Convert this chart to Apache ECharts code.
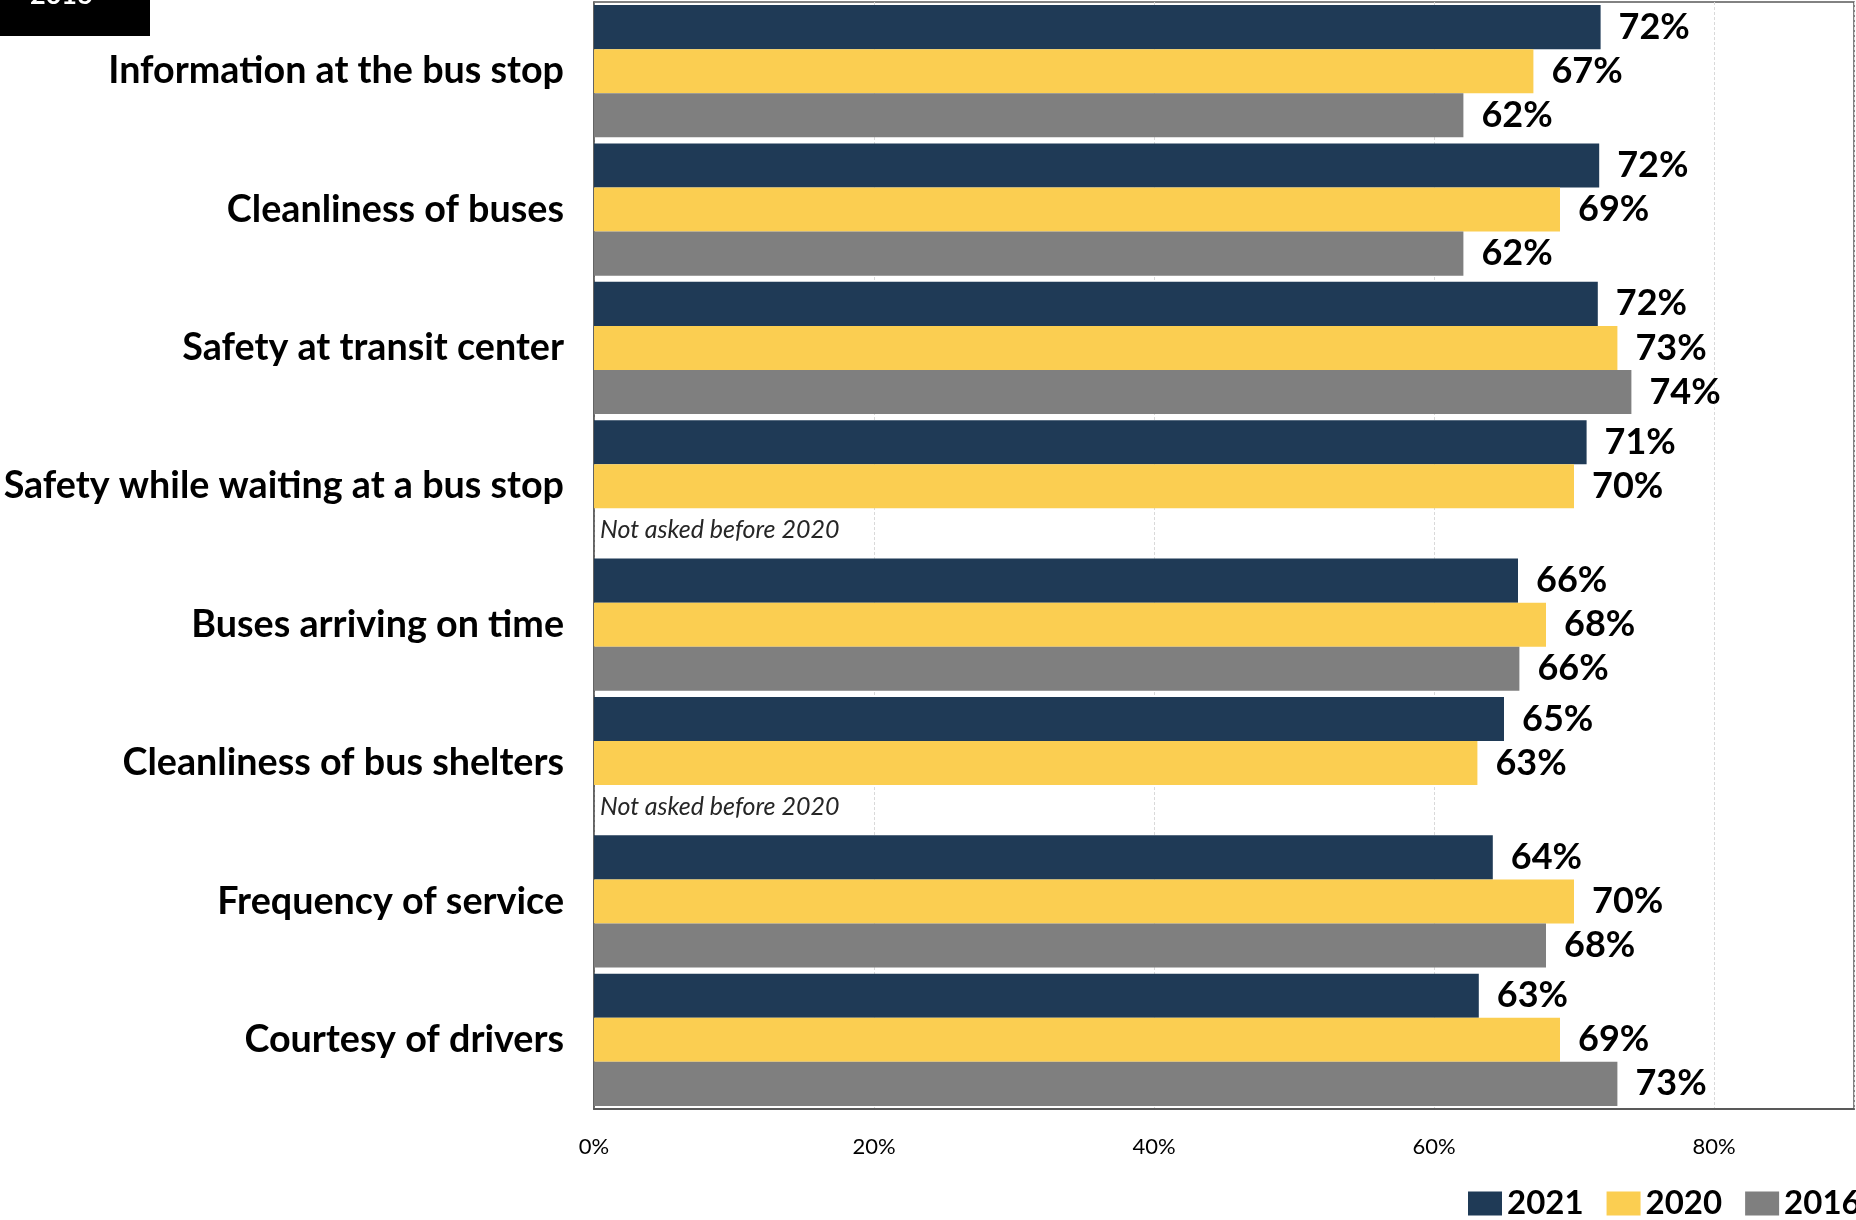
<!DOCTYPE html>
<html>
<head>
<meta charset="utf-8">
<script src="https://cdn.jsdelivr.net/npm/echarts@6/dist/echarts.min.js"></script>
<style>
html,body{margin:0;padding:0;background:#fff;}
#chart{width:1856px;height:1220px;}
</style>
</head>
<body>
<div id="chart"></div>
<script>
const categories = [
  'Information at the bus stop',
  'Cleanliness of buses',
  'Safety at transit center',
  'Safety while waiting at a bus stop',
  'Buses arriving on time',
  'Cleanliness of bus shelters',
  'Frequency of service',
  'Courtesy of drivers'
];
const seriesNames = ['2021', '2020', '2016'];
const values2021 = [71.9, 71.8, 71.7, 70.9, 66.0, 65.0, 64.2, 63.2];
const values2020 = [67.1, 69.0, 73.1, 70.0, 68.0, 63.1, 70.0, 69.0];
const values2016 = [62.1, 62.1, 74.1, null, 66.1, null, 68.0, 73.1];
const xTicks = [0, 20, 40, 60, 80];
const missingNote = 'Not asked before 2020';
const colors = ['#1F3A56', '#FBCE51', '#7F7F7F'];

const FONT = 'Lato, "Open Sans", sans-serif';

function buildData(arr) {
  return arr.map(v => v === null
    ? { value: 0, label: { show: true, formatter: missingNote, fontStyle: 'italic', fontWeight: 'normal',
        fontSize: 25, color: '#262626', distance: 6 } }
    : v);
}

const chart = echarts.init(document.getElementById('chart'));
const allValues = [values2021, values2020, values2016];
chart.setOption({
  animation: false,
  textStyle: { fontFamily: FONT },
  grid: { left: 594, right: 2, top: 2, bottom: 111, show: true, borderColor: '#595959', borderWidth: 1.5,
    containLabel: false, outerBoundsMode: 'none' },
  xAxis: {
    type: 'value', min: 0, max: 90, interval: 20,
    axisLabel: { formatter: v => (xTicks.indexOf(v) >= 0 ? v + '%' : ''), fontSize: 22, color: '#000', margin: 27, fontFamily: FONT },
    splitLine: { show: true, lineStyle: { color: '#D9D9D9', type: [3, 2], width: 1 } },
    axisLine: { show: true, lineStyle: { color: '#595959', width: 2 } },
    axisTick: { show: false }
  },
  yAxis: {
    type: 'category', data: categories, inverse: true,
    axisLabel: { fontSize: 37.7, fontWeight: 'bold', color: '#000', margin: 30, fontFamily: FONT },
    axisLine: { show: true, lineStyle: { color: '#595959', width: 1.5 } },
    axisTick: { show: false }
  },
  legend: {
    left: 1468, top: 1187, width: 600, icon: 'rect', itemWidth: 34, itemHeight: 24, itemGap: 23, padding: 0,
    textStyle: { fontSize: 33, fontWeight: 'bold', color: '#000', fontFamily: FONT },
    data: seriesNames
  },
  graphic: [
    { type: 'rect', left: 0, top: 0, shape: { width: 150, height: 36 }, style: { fill: '#000' }, z: 100 },
    { type: 'text', x: 30, y: 9, z: 101, style: { text: '2016', fill: '#fff', fontSize: 27, fontWeight: 'bold',
        fontFamily: FONT, verticalAlign: 'bottom', align: 'left' } }
  ],
  series: seriesNames.map((name, i) => ({
    name: name, type: 'bar',
    data: buildData(allValues[i]),
    barGap: '0%', barCategoryGap: '4.5%',
    itemStyle: { color: colors[i] },
    label: { show: true, position: 'right', distance: 18, formatter: p => Math.round(p.value) + '%',
      fontSize: 36, fontWeight: 'bold', color: '#000', fontFamily: FONT }
  }))
});
</script>
</body>
</html>
